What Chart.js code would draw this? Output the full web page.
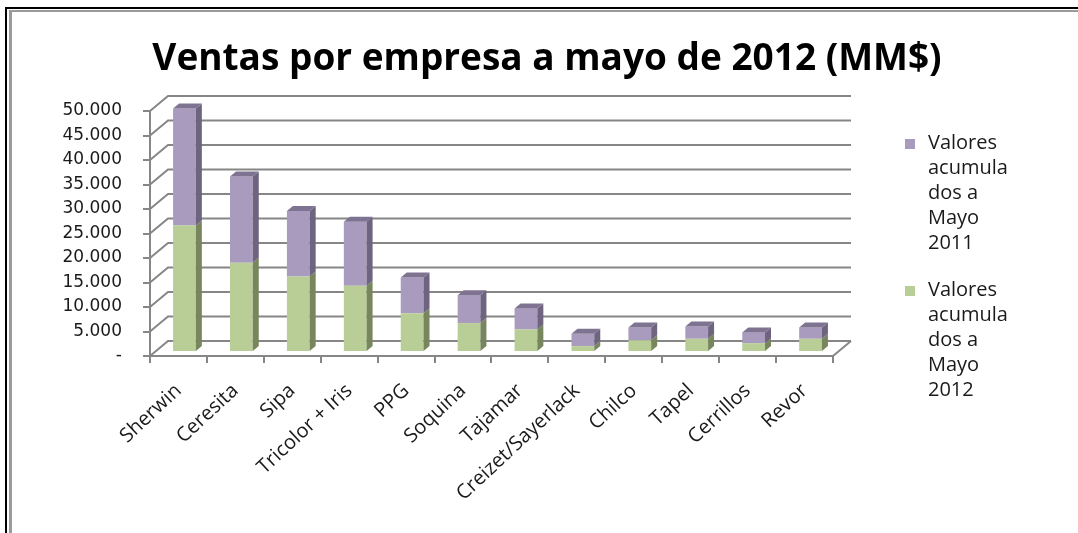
<!DOCTYPE html>
<html>
<head>
<meta charset="utf-8">
<script src="https://cdn.jsdelivr.net/npm/chart.js@4.4.1/dist/chart.umd.min.js"></script>
<style>
  html, body { margin: 0; padding: 0; background: #fff; }
  #wrap { position: relative; width: 1078px; height: 533px; overflow: hidden; }
  #chart { position: absolute; left: 0; top: 0; }
  .frame-outer { position: absolute; left: 5px; top: 7px; right: -10px; bottom: -10px;
    border-left: 2px solid #000; border-top: 2px solid #000; pointer-events: none; }
  .frame-inner { position: absolute; left: 9px; top: 10px; right: -10px; bottom: -10px;
    border-left: 3px solid #9a9a9a; border-top: 2px solid #9a9a9a; pointer-events: none; }
</style>
</head>
<body>
<div id="wrap">
  <canvas id="chart" width="1078" height="533"></canvas>
  <div class="frame-outer"></div>
  <div class="frame-inner"></div>
</div>
<script>
const categories = ['Sherwin', 'Ceresita', 'Sipa', 'Tricolor + Iris', 'PPG', 'Soquina', 'Tajamar',
  'Creizet/Sayerlack', 'Chilco', 'Tapel', 'Cerrillos', 'Revor'];
const ventas2012 = [25800, 18200, 15400, 13500, 7900, 5900, 4600, 1200, 2400, 2700, 1800, 2700];
const ventas2011 = [23900, 17600, 13400, 13100, 7300, 5700, 4300, 2500, 2600, 2500, 2200, 2300];
const yTicks = [0, 5000, 10000, 15000, 20000, 25000, 30000, 35000, 40000, 45000, 50000];
const yTickLabels = ['-', '5.000', '10.000', '15.000', '20.000', '25.000', '30.000', '35.000',
  '40.000', '45.000', '50.000'];
const legend2011 = ['Valores', 'acumula', 'dos a', 'Mayo', '2011'];
const legend2012 = ['Valores', 'acumula', 'dos a', 'Mayo', '2012'];

// fake 3D: back wall offset, bar position inside the depth, bar thickness
const wall = { dx: 18, dy: -15 };
const barShift = { dx: 6, dy: -4 };
const face = { dx: 6, dy: -5 };
const gridColor = '#868686';

const excel3d = {
  id: 'excel3d',
  beforeDatasetsDraw(chart) {
    const { ctx, chartArea: a, scales: { y } } = chart;
    ctx.save();
    ctx.strokeStyle = gridColor;
    ctx.lineWidth = 2;
    ctx.beginPath();
    yTicks.forEach(v => {
      const py = y.getPixelForValue(v);
      ctx.moveTo(a.left, py);
      ctx.lineTo(a.left + wall.dx, py + wall.dy);
      ctx.lineTo(a.right + wall.dx, py + wall.dy);
    });
    ctx.moveTo(a.right, a.bottom);
    ctx.lineTo(a.right + wall.dx, a.bottom + wall.dy);
    ctx.stroke();
    ctx.restore();

    ctx.save();
    ctx.translate(barShift.dx, barShift.dy);
  },
  afterDatasetsDraw(chart) {
    const { ctx } = chart;
    const n = chart.data.datasets.length;
    chart.data.datasets.forEach((ds, i) => {
      const meta = chart.getDatasetMeta(i);
      meta.data.forEach(bar => {
        const { x, y, base, width } = bar.getProps(['x', 'y', 'base', 'width'], true);
        const l = x - width / 2, r = x + width / 2;
        ctx.fillStyle = ds.sideColor;
        ctx.beginPath();
        ctx.moveTo(r, base);
        ctx.lineTo(r, y);
        ctx.lineTo(r + face.dx, y + face.dy);
        ctx.lineTo(r + face.dx, base + face.dy);
        ctx.closePath();
        ctx.fill();
        if (i === n - 1) {
          ctx.fillStyle = ds.topColor;
          ctx.beginPath();
          ctx.moveTo(l, y);
          ctx.lineTo(r, y);
          ctx.lineTo(r + face.dx, y + face.dy);
          ctx.lineTo(l + face.dx, y + face.dy);
          ctx.closePath();
          ctx.fill();
        }
      });
    });
    ctx.restore();
  }
};

const sideLegend = {
  id: 'sideLegend',
  afterDraw(chart) {
    const { ctx, chartArea: a } = chart;
    const blocks = [
      { lines: legend2011, color: chart.data.datasets[1].backgroundColor },
      { lines: legend2012, color: chart.data.datasets[0].backgroundColor }
    ];
    ctx.save();
    ctx.font = '20px "Open Sans"';
    ctx.textBaseline = 'middle';
    let top = a.top + 32;
    blocks.forEach(b => {
      ctx.fillStyle = b.color;
      ctx.fillRect(a.right + 72, top - 4, 10, 10);
      ctx.fillStyle = '#1a1a1a';
      b.lines.forEach((t, i) => ctx.fillText(t, a.right + 95, top + i * 25));
      top += 147;
    });
    ctx.restore();
  }
};

new Chart(document.getElementById('chart').getContext('2d'), {
  type: 'bar',
  data: {
    labels: categories,
    datasets: [
      {
        label: 'Valores acumulados a Mayo 2012',
        data: ventas2012,
        backgroundColor: '#B9CE96',
        sideColor: '#77865D',
        topColor: '#8FA070'
      },
      {
        label: 'Valores acumulados a Mayo 2011',
        data: ventas2011,
        backgroundColor: '#A99BBE',
        sideColor: '#6E647F',
        topColor: '#7F7392'
      }
    ]
  },
  options: {
    responsive: false,
    animation: false,
    clip: false,
    datasets: {
      bar: { barPercentage: 0.4, categoryPercentage: 1, borderWidth: 0 }
    },
    layout: { padding: { left: 16, right: 0, top: 0, bottom: 0 } },
    scales: {
      x: {
        stacked: true,
        grid: { drawOnChartArea: false, offset: true, tickLength: 7, color: gridColor, lineWidth: 2 },
        border: { color: gridColor, width: 2 },
        ticks: {
          autoSkip: false,
          minRotation: 43,
          maxRotation: 43,
          padding: 16,
          color: '#1a1a1a',
          font: { family: 'Open Sans', size: 20 }
        },
        afterFit: s => { s.height = 177; }
      },
      y: {
        stacked: true,
        min: 0,
        max: 50000,
        afterBuildTicks: s => { s.ticks = yTicks.map(v => ({ value: v })); },
        grid: { drawOnChartArea: false, tickLength: 7, color: gridColor, lineWidth: 2 },
        border: { color: gridColor, width: 2 },
        ticks: {
          padding: 21,
          color: '#1a1a1a',
          font: { family: 'DejaVu Sans', size: 17 },
          callback: v => yTickLabels[yTicks.indexOf(v)]
        },
        afterFit: s => { s.width = 134; }
      },
      // empty right-hand box that keeps room for the legend
      legendSpace: {
        type: 'linear',
        position: 'right',
        min: 0,
        max: 1,
        grid: { display: false },
        border: { display: false },
        ticks: { display: false },
        afterFit: s => { s.width = 245; }
      }
    },
    plugins: {
      legend: { display: false },
      tooltip: { enabled: false },
      title: {
        display: true,
        text: 'Ventas por empresa a mayo de 2012 (MM$)',
        color: '#000',
        font: { family: 'Open Sans', size: 37, weight: 'bold' },
        padding: { top: 37, bottom: 29.6 }
      }
    }
  },
  plugins: [excel3d, sideLegend]
});
</script>
</body>
</html>
